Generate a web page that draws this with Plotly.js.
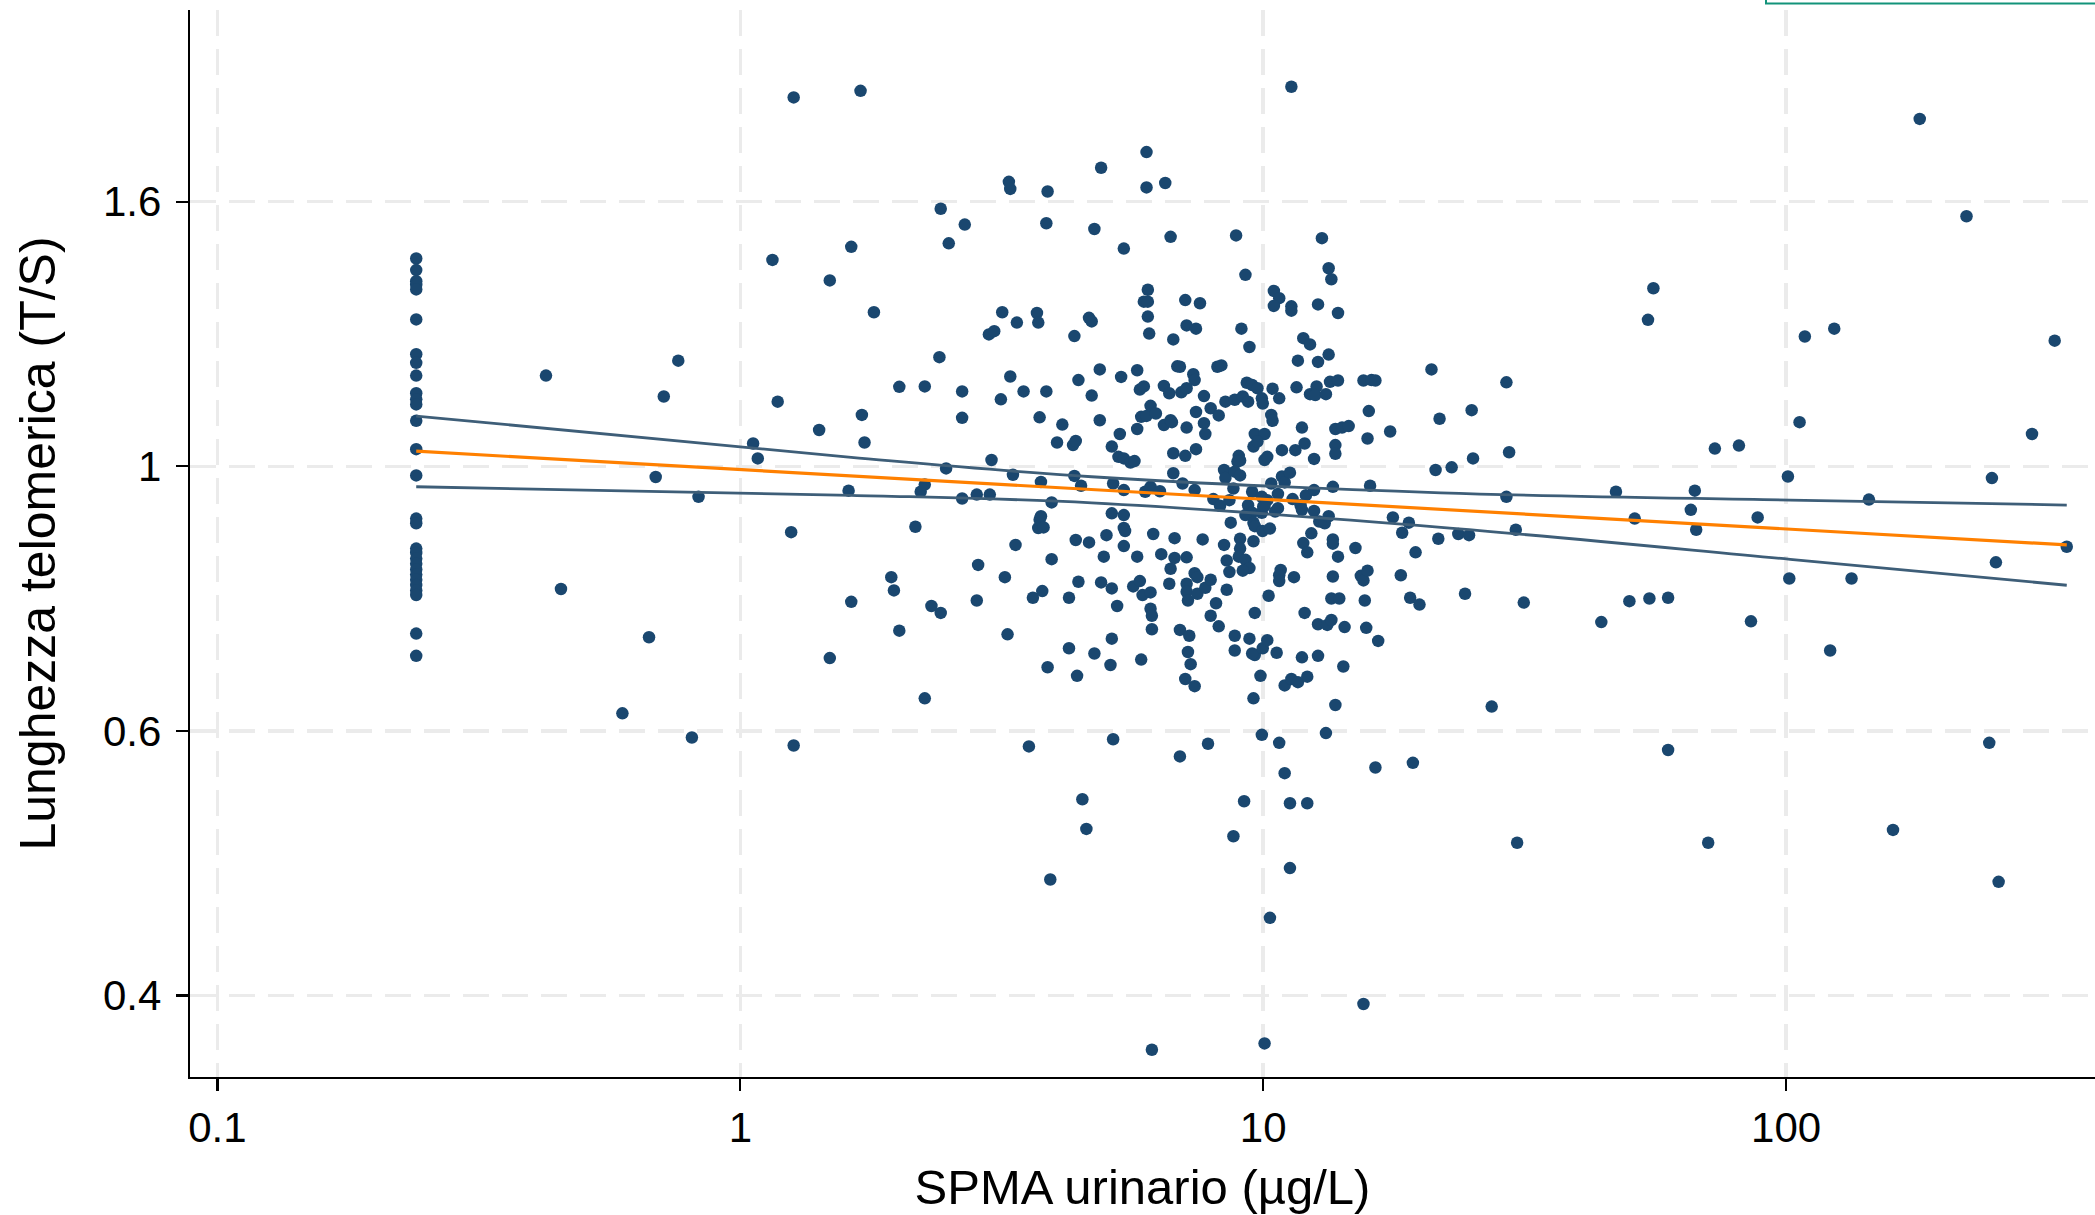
<!DOCTYPE html>
<html>
<head>
<meta charset="utf-8">
<script src="https://cdn.plot.ly/plotly-3.0.1.min.js"></script>
<style>
html,body{margin:0;padding:0;background:#fff;}
#chart{width:2095px;height:1215px;}
</style>
</head>
<body>
<div id="chart"></div>
<script>
// SPMA urinario (µg/L)
const spma = [
0.24,0.24,0.24,0.24,0.24,0.24,0.24,0.24,0.24,0.24,0.24,0.24,0.24,0.24,0.24,0.24,0.24,0.24,0.24,0.24,0.24,0.24,0.24,0.24,0.24,0.24,0.24,0.24,0.24,
0.425,0.454,0.595,0.669,0.689,0.714,0.761,0.808,0.832,
1.058,1.080,1.152,1.179,1.251,1.265,1.265,1.415,1.483,1.483,1.611,1.630,1.630,1.698,1.708,1.728,1.801,1.944,1.967,2.014,2.014,2.162,2.213,2.253,2.253,2.253,2.320,2.403,2.417,2.417,2.475,2.504,2.656,2.656,2.656,2.687,2.833,2.833,2.850,2.988,3.000,3.023,3.059,3.150,3.169,3.206,3.244,3.263,3.283,3.283,3.322,3.360,3.380,3.481,3.564,3.627,3.692,3.714,3.714,3.736,3.736,3.758,3.758,3.780,3.802,3.848,3.848,3.870,3.870,3.916,3.939,3.939,4.034,4.129,4.252,4.252,4.328,4.380,4.354,4.354,4.380,4.406,4.432,4.432,4.484,4.510,4.590,4.644,4.699,4.644,4.699,4.755,4.755,
5.982,4.898,5.982,6.496,5.413,6.651,8.874,12.95,9.247,13.34,13.50,6.017,5.912,6.017,6.017,6.053,7.095,7.570,7.137,7.438,6.730,9.085,9.412,10.48,10.73,10.48,11.32,11.32,12.73,13.90,11.93,12.29,11.65,12.73,13.34,20.98,4.869,5.349,5.741,6.850,6.930,7.351,7.394,8.172,8.318,5.809,5.912,6.458,6.612,6.971,7.137,7.704,4.869,5.318,5.741,5.843,5.982,6.089,6.234,6.458,6.651,6.690,7.137,7.438,7.935,8.221,7.704,7.750,8.467,8.822,9.139,9.357,9.302,9.524,9.750,9.940,9.980,10.42,10.73,10.36,10.42,11.58,12.29,12.65,12.58,13.18,13.42,13.90,15.55,16.11,16.39,15.92,11.86,13.74,14.15,14.57,17.49,21.74,9.636,10.06,15.83,
5.134,5.287,5.413,5.574,5.674,6.730,7.095,7.438,8.980,9.032,8.927,9.580,9.750,10.06,10.18,10.86,11.52,12.00,12.51,13.74,13.74,21.36,6.730,5.164,5.413,5.947,6.089,6.345,7.011,7.394,8.417,8.467,8.822,9.032,8.770,8.029,8.269,8.617,9.524,9.940,10.18,10.00,10.36,10.86,10.99,11.25,10.67,11.38,11.79,12.07,12.51,13.59,16.01,9.357,9.524,9.247,9.940,10.06,10.67,10.54,11.86,12.51,12.80,13.11,13.34,17.70,18.99,18.44,21.62,5.134,5.413,5.413,5.443,5.015,6.161,6.769,7.659,8.668,9.580,9.636,9.970,10.30,5.413,4.956,5.741,6.383,6.769,7.137,8.417,9.032,9.032,8.980,9.580,8.516,9.247,9.412,9.139,8.617,6.651,4.898,5.134,5.641,5.809,6.612,7.137,7.394,7.483,7.137,7.179,7.483,7.750,7.935,5.878,6.089,5.256,6.089,6.125,6.125,8.124,7.935,8.221,8.516,10.24,10.80,10.73,10.73,11.45,9.636,12.00,12.73,13.26,13.50,13.59,13.59,11.93,12.14,13.90,12.36,15.01,13.59,13.50,13.98,15.37,15.55,15.83,15.64,14.31,15.74,16.59,18.33,19.10,19.90,19.56,5.134,5.104,5.843,6.930,7.222,7.179,7.265,7.095,7.394,8.822,8.822,9.412,9.636,9.524,9.980,10.18,10.61,11.86,12.73,14.23,9.880,10.99,11.32,11.65,12.14,9.580,13.74,5.164,7.842,9.940,10.73,13.18,
6.930,10.99,16.39,19.33,9.193,11.25,12.14,8.770,11.25,10.30,15.55,6.125,10.06,11.32,
55.74,54.43,29.18,25.04,29.53,25.19,22.93,29.18,47.27,51.34,66.90,65.73,67.30,73.07,81.24,88.22,100.8,101.4,23.61,24.75,30.41,24.32,31.50,44.32,50.15,54.77,59.47,85.66,180.1,221.3,326.3,108.6,123.6,106.1,295.3,247.5,144.0,344.1,133.4,251.9,121.4,244.6,160.1,254.9,27.35,30.59,59.47,70.95
];
// Lunghezza telomerica (T/S)
const ts = [
1.481,1.449,1.419,1.409,1.397,1.320,1.236,1.216,1.187,1.148,1.135,1.124,1.090,1.033,0.983,0.906,0.898,0.856,0.849,0.840,0.832,0.823,0.815,0.807,0.799,0.791,0.784,0.729,0.699,
1.187,0.793,0.627,0.724,0.980,1.141,1.221,0.599,0.944,
1.044,1.015,1.477,1.130,0.883,0.590,2.008,1.071,1.421,0.696,0.955,1.514,0.774,2.033,1.102,1.046,1.338,0.811,0.791,1.162,0.733,0.892,0.953,0.966,1.163,0.645,0.768,1.229,1.627,0.758,0.996,1.524,1.152,1.096,0.941,1.579,0.948,0.776,0.830,1.283,0.948,1.012,1.291,1.135,1.338,0.811,0.728,1.712,1.689,1.185,0.984,0.862,1.312,1.152,0.589,0.780,1.336,1.312,0.890,1.097,0.904,0.910,0.971,0.790,0.891,1.583,1.152,1.681,0.684,0.458,0.934,0.839,1.046,1.082,0.780,0.709,1.041,1.049,1.279,0.982,0.870,0.673,1.177,0.804,0.964,0.533,0.504,1.324,1.315,0.866,1.143,1.566,0.702,
1.811,1.758,1.694,1.708,1.509,1.543,1.547,1.539,1.436,1.454,1.424,1.396,1.365,1.365,1.327,1.285,1.369,1.361,1.305,1.297,1.271,1.297,1.253,1.393,1.374,1.354,1.353,1.342,1.358,1.336,1.274,1.259,1.221,1.218,1.235,1.201,1.201,1.184,1.199,1.208,1.207,1.190,1.177,1.207,1.210,1.156,1.163,1.164,1.148,1.150,1.159,1.142,1.091,1.063,1.073,1.098,1.100,1.121,1.105,1.081,1.091,1.087,1.076,1.108,1.116,1.101,1.085,1.063,1.130,1.134,1.141,1.130,1.171,1.166,1.159,1.137,1.126,1.158,1.137,1.102,1.090,1.161,1.146,1.163,1.144,1.146,1.173,1.176,1.176,1.177,1.176,1.110,1.076,1.073,1.076,1.079,1.068,1.094,1.063,1.063,1.054,
1.038,1.018,1.015,1.007,1.010,1.025,1.020,1.033,1.020,1.011,1.009,1.038,1.048,1.012,1.018,1.031,1.031,1.044,1.014,1.041,1.024,0.993,0.987,0.968,0.956,0.953,0.962,0.954,0.968,0.956,0.993,0.978,0.990,0.983,0.959,0.940,0.928,0.938,0.953,0.944,0.938,0.927,0.968,0.981,0.970,0.988,0.949,0.940,0.929,0.947,0.956,0.962,0.964,0.929,0.916,0.912,0.916,0.928,0.924,0.918,0.921,0.919,0.901,0.898,0.910,0.908,0.899,0.882,0.872,0.915,0.912,0.890,0.885,0.878,0.880,0.873,0.871,0.899,0.899,0.893,0.885,0.889,0.860,0.843,0.843,0.847,0.841,0.842,0.862,0.872,0.856,0.843,0.868,0.837,0.838,0.825,0.821,0.819,0.824,0.803,0.794,0.797,0.805,0.801,0.801,0.817,0.811,0.789,0.776,0.786,0.795,0.807,0.784,0.788,0.768,0.764,0.754,0.735,0.772,0.754,0.739,0.792,0.783,0.822,0.814,0.805,0.811,0.758,0.758,0.742,0.741,0.748,0.871,0.864,0.865,0.850,0.843,0.881,0.857,0.812,0.779,0.779,0.813,0.806,0.821,0.776,0.738,0.737,0.719,0.814,0.780,0.770,0.850,0.722,0.687,0.694,0.734,0.726,0.704,0.688,0.669,0.660,0.726,0.706,0.722,0.700,0.702,0.709,0.720,0.703,0.697,0.699,0.685,0.673,0.661,0.669,0.665,0.672,0.645,0.637,0.597,0.592,0.602,0.593,0.604,
0.578,0.560,0.566,0.571,0.531,0.529,0.529,0.497,0.468,0.426,0.362,0.332,0.336,2.049,
1.400,1.319,1.172,1.112,1.027,1.015,0.998,0.944,0.953,0.906,0.955,0.921,0.887,1.034,1.040,0.908,0.981,0.809,0.880,0.878,0.887,0.786,0.773,0.745,0.775,0.779,0.780,0.746,1.928,1.604,1.268,1.278,1.297,1.087,1.063,0.978,0.939,0.859,0.809,0.834,0.706,0.593,0.503,0.456,0.635,0.491,0.585,0.491
];

// fitted line and its confidence limits
const fitX = [0.24, 344.1];
const fitY = [1.029, 0.862];
const ciX = [0.24, 1.630, 4.699, 21.87, 101.8, 344.1];
const ciUpper = [1.0996, 1.0171, 0.9805, 0.9512, 0.9381, 0.9294];
const ciLower = [0.9621, 0.9467, 0.9334, 0.8910, 0.8388, 0.7987];

const xTickVals = [0.1, 1, 10, 100];
const xTickText = ['0.1', '1', '10', '100'];
const yTickVals = [0.3679, 0.6065, 1, 1.6487];
const yTickText = ['0.4', '0.6', '1', '1.6'];

const FONT = 'Liberation Sans, Arial, Helvetica, sans-serif';
const dotColor = '#1a476f';
const ciColor = '#3e5e78';
const fitColor = '#ff8000';

const traces = [
  {type:'scatter', mode:'markers', x:spma, y:ts, marker:{color:dotColor, size:12.5, line:{width:0}}, hoverinfo:'skip', showlegend:false},
  {type:'scatter', mode:'lines', x:ciX, y:ciUpper, line:{color:ciColor, width:2.8, shape:'spline'}, hoverinfo:'skip', showlegend:false},
  {type:'scatter', mode:'lines', x:ciX, y:ciLower, line:{color:ciColor, width:2.8, shape:'spline'}, hoverinfo:'skip', showlegend:false},
  {type:'scatter', mode:'lines', x:fitX, y:fitY, line:{color:fitColor, width:3.2}, hoverinfo:'skip', showlegend:false}
];

const gridCommon = {showgrid:true, gridcolor:'#ebebeb', gridwidth:3.5, griddash:'26px,13px', zeroline:false,
  showline:true, linecolor:'#000', linewidth:2.2, ticks:'outside', ticklen:12, tickwidth:2.2, tickcolor:'#000',
  tickfont:{family:FONT, size:42, color:'#000'}};

const layout = {
  width:2095, height:1215,
  margin:{l:190, r:0, t:10, b:138, pad:0},
  paper_bgcolor:'#fff', plot_bgcolor:'#fff',
  showlegend:false,
  xaxis: Object.assign({}, gridCommon, {
    type:'log', range:[-1.0524, 2.5907], tickmode:'array', tickvals:xTickVals, ticktext:xTickText,
    automargin:false,
    title:{text:'SPMA urinario (µg/L)', font:{family:FONT, size:49, color:'#000'}, standoff:20}
  }),
  yaxis: Object.assign({}, gridCommon, {
    type:'log', range:[-0.5012, 0.3745], tickmode:'array', tickvals:yTickVals, ticktext:yTickText,
    automargin:false, ticklabelstandoff:6,
    title:{text:'Lunghezza telomerica (T/S)', font:{family:FONT, size:50, color:'#000'}, standoff:32}
  }),
  shapes:[
    {type:'rect', xref:'paper', yref:'paper', x0:0.8273, x1:1.05, y0:1.0061, y1:1.08,
     line:{color:'#13937a', width:2}, fillcolor:'rgba(0,0,0,0)', layer:'above'}
  ]
};

Plotly.newPlot('chart', traces, layout, {displayModeBar:false, staticPlot:true});
</script>
</body>
</html>
